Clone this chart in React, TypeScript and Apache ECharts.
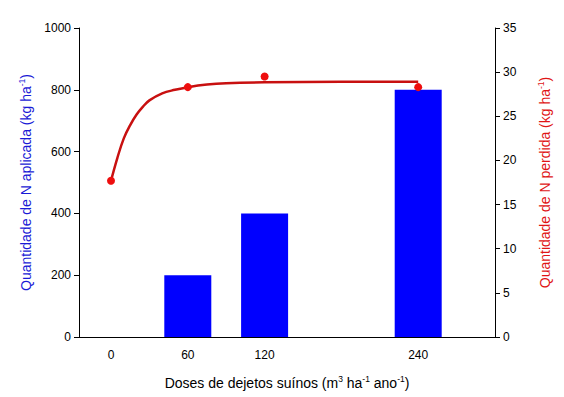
import React, { useEffect, useRef } from "react";
import * as echarts from "echarts";

const doses = [60, 120, 240];
const nApplied = [200, 400, 800];
const lossDoses = [0, 60, 120, 240];
const nLost = [17.7, 28.3, 29.5, 28.3];
const curveX = [0, 5, 10, 15, 20, 25, 30, 40, 50, 60, 75, 90, 120, 180, 240];
const curveY = [17.7, 20.3, 22.5, 24.0, 25.2, 26.1, 26.8, 27.6, 28.0, 28.3, 28.6, 28.75, 28.85, 28.9, 28.9];
const xTicks = [0, 60, 120, 240];

export default function App() {
  const ref = useRef<HTMLDivElement>(null);
  useEffect(() => {
    if (!ref.current) return;
    const chart = echarts.init(ref.current, null, { renderer: "svg" });
    const font = "Liberation Sans, Arial, sans-serif";
    const titleRich = (color: string) => ({
      b: { fontSize: 14, lineHeight: 17, color, fontFamily: font },
      sup: { fontSize: 8.5, lineHeight: 9, verticalAlign: "top", color, fontFamily: font },
    });
    chart.setOption({
      animation: false,
      textStyle: { fontFamily: font },
      grid: { left: 79, right: 69, top: 28, bottom: 60, containLabel: false },
      xAxis: {
        type: "value",
        min: -25,
        max: 300,
        splitLine: { show: false },
        axisLine: { lineStyle: { color: "#000", width: 1 } },
        axisTick: { show: false },
        axisLabel: { customValues: xTicks, color: "#000", fontSize: 12, margin: 12, fontFamily: font },
        name: "{b|Doses de dejetos suínos (m}{sup|3}{b| ha}{sup|-1}{b| ano}{sup|-1}{b|)}",
        nameLocation: "middle",
        nameGap: 37,
        nameTextStyle: { rich: titleRich("#000") },
      },
      yAxis: [
        {
          type: "value",
          min: 0,
          max: 1000,
          interval: 200,
          position: "left",
          splitLine: { show: false },
          axisLine: { show: true, onZero: false, lineStyle: { color: "#000", width: 1 } },
          axisTick: { show: true, length: 5, lineStyle: { color: "#000" } },
          axisLabel: { color: "#000", fontSize: 12, margin: 8, fontFamily: font, formatter: (v: number) => String(v) },
          name: "{b|Quantidade de N aplicada (kg ha}{sup|-1}{b|)}",
          nameLocation: "middle",
          nameRotate: 90,
          nameGap: 45,
          nameTextStyle: { rich: titleRich("#1a1ad6") },
        },
        {
          type: "value",
          min: 0,
          max: 35,
          interval: 5,
          position: "right",
          splitLine: { show: false },
          axisLine: { show: true, onZero: false, lineStyle: { color: "#000", width: 1 } },
          axisTick: { show: true, length: 5, lineStyle: { color: "#000" } },
          axisLabel: { color: "#000", fontSize: 12, margin: 8, fontFamily: font },
          name: "{b|Quantidade de N perdida (kg ha}{sup|-1}{b|)}",
          nameLocation: "middle",
          nameRotate: 90,
          nameGap: 41,
          nameTextStyle: { rich: titleRich("#e01515") },
        },
      ],
      series: [
        {
          type: "bar",
          yAxisIndex: 0,
          barWidth: 47,
          itemStyle: { color: "#0000ff" },
          data: doses.map((d, i) => [d, nApplied[i]]),
          z: 1,
        },
        {
          type: "line",
          yAxisIndex: 1,
          smooth: 0.4,
          showSymbol: false,
          lineStyle: { color: "#c81010", width: 2.5 },
          data: curveX.map((x, i) => [x, curveY[i]]),
          z: 2,
        },
        {
          type: "scatter",
          yAxisIndex: 1,
          symbolSize: 8,
          itemStyle: { color: "#ee0e0e", opacity: 1 },
          data: lossDoses.map((x, i) => [x, nLost[i]]),
          z: 3,
        },
      ],
    });
    return () => chart.dispose();
  }, []);
  return <div ref={ref} style={{ width: 564, height: 397, position: "absolute", left: 0, top: 0 }} />;
}
